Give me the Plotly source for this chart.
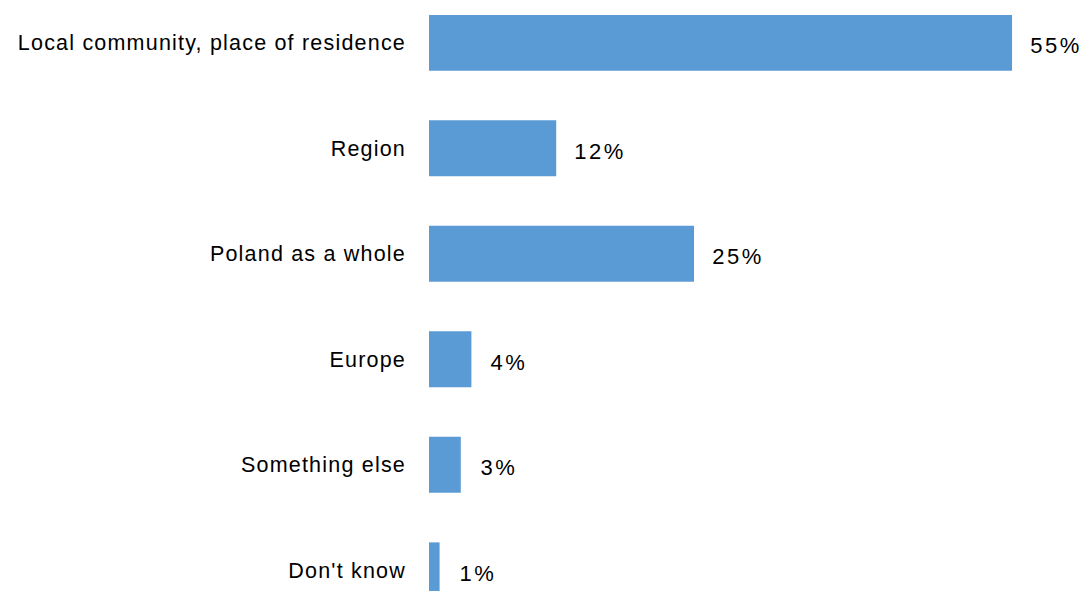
import plotly.graph_objects as go

categories = ["Local community, place of residence", "Region", "Poland as a whole",
              "Europe", "Something else", "Don't know"]
values = [55, 12, 25, 4, 3, 1]
labels = ["55%", "12%", "25%", "4%", "3%", "1%"]

FONT = "Liberation Sans, Arial, sans-serif"

fig = go.Figure(go.Bar(
    x=values, y=categories, orientation="h",
    marker=dict(color="#5B9BD5", line=dict(width=0)),
    width=0.53, hoverinfo="skip",
))

for c, v, t in zip(categories, values, labels):
    fig.add_annotation(x=v, y=c, text=t, showarrow=False, xanchor="left",
                       xshift=20, yshift=-3,
                       font=dict(size=22, color="#000000", family=FONT))

fig.update_layout(
    width=1089, height=591,
    margin=dict(l=429, r=0, t=0, b=0),
    paper_bgcolor="white", plot_bgcolor="white",
    showlegend=False,
    font=dict(family=FONT, size=21, color="#000000"),
    xaxis=dict(range=[0, 62.26], visible=False, fixedrange=True),
    yaxis=dict(type="category", categoryorder="array", categoryarray=categories,
               range=[5.196, -0.406], showgrid=False, zeroline=False,
               showline=False, ticks="", ticklabelstandoff=22,
               tickfont=dict(size=21.5, color="#000000", family=FONT)),
)

post = """
var s = document.createElement('style');
s.textContent = 'html,body{margin:0!important;padding:0!important;overflow:hidden;}' +
  '.ytick text{letter-spacing:1.2px;} .annotation-text{letter-spacing:2.5px;}';
document.head.appendChild(s);
"""

fig.write_html("out.html", post_script=post, config={"displayModeBar": False})
